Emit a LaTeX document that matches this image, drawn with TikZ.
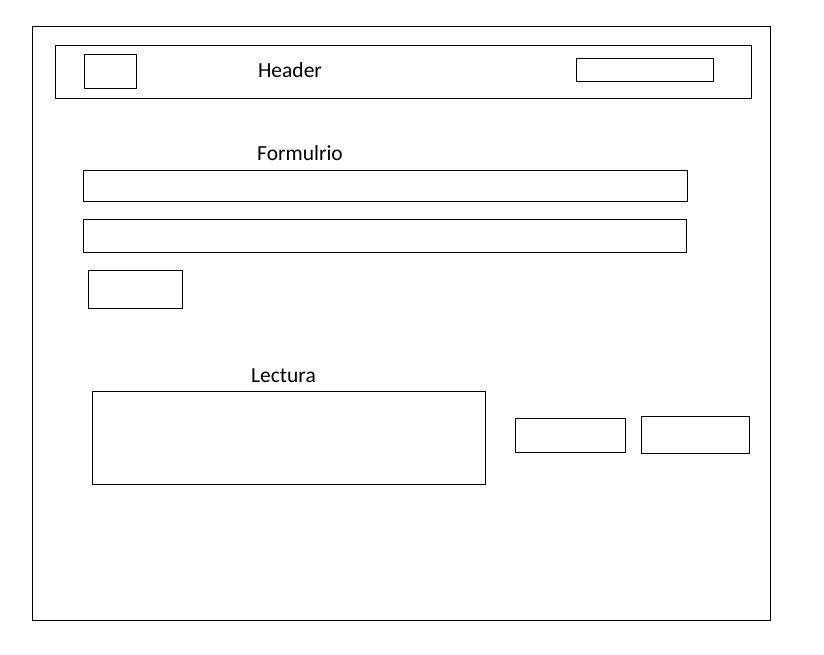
\documentclass[tikz,border=0pt]{standalone}
\usepackage{fontspec}
\setmainfont{Carlito}
\begin{document}
\begin{tikzpicture}[x=1pt,y=-1pt,
  box/.style={draw=black,line width=1pt},
  lbl/.style={inner sep=0pt,anchor=base,font=\fontsize{21.5}{24}\selectfont}]
\useasboundingbox[fill=white] (0,0) rectangle (824,654);
\draw[box] (32,26) rectangle (770,620);
\draw[box] (55,45) rectangle (751,98);
\draw[box] (84,54) rectangle (136,88);
\draw[box] (576,58) rectangle (713,81);
\node[lbl] (header) at (290,77.5) {Header};
\node[lbl] (form) at (300,160.5) {Formulrio};
\draw[box] (83,170) rectangle (687,201);
\draw[box] (83,219) rectangle (686,252);
\draw[box] (88,270) rectangle (182,308);
\node[lbl] (lect) at (283.5,382) {Lectura};
\draw[box] (92,391) rectangle (485,484);
\draw[box] (515,418) rectangle (625,452);
\draw[box] (641,416) rectangle (749,453);
\end{tikzpicture}
\end{document}
